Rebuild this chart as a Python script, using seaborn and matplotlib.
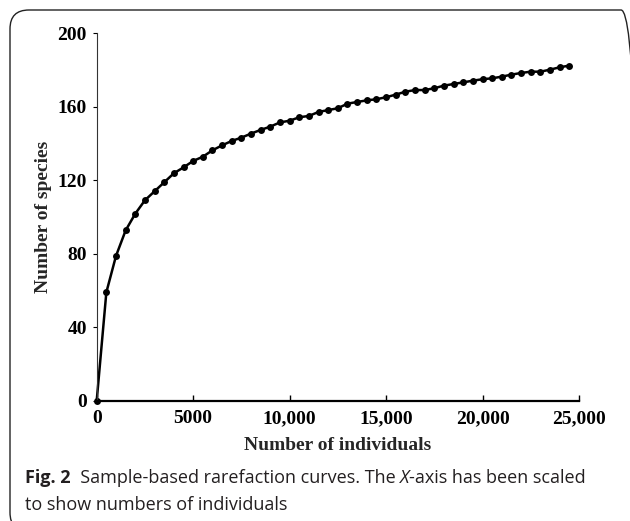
import numpy as np
import pandas as pd
import matplotlib
matplotlib.use("Agg")
import matplotlib.pyplot as plt
from matplotlib.patches import FancyBboxPatch
import seaborn as sns

# rarefaction curve
individuals = [
    0, 500, 1000, 1500, 2000, 2500, 3000, 3500, 4000, 4500,
    5000, 5500, 6000, 6500, 7000, 7500, 8000, 8500, 9000, 9500,
    10000, 10500, 11000, 11500, 12000, 12500, 13000, 13500, 14000, 14500,
    15000, 15500, 16000, 16500, 17000, 17500, 18000, 18500, 19000, 19500,
    20000, 20500, 21000, 21500, 22000, 22500, 23000, 23500, 24000, 24500,
]
species = [
    0, 59.0, 78.8, 92.7, 101.8, 109.1, 114.0, 118.9, 123.8, 127.0,
    130.5, 132.8, 136.3, 139.0, 141.4, 143.2, 145.4, 147.4, 149.2, 151.5,
    152.4, 154.3, 155.0, 157.2, 158.2, 159.2, 161.7, 162.6, 163.5, 164.1,
    165.2, 166.6, 168.2, 169.1, 169.1, 170.1, 171.5, 172.4, 173.3, 174.2,
    175.0, 175.5, 176.4, 177.5, 178.4, 179.1, 179.1, 180.2, 181.5, 182.4,
]
x_ticks = [0, 5000, 10000, 15000, 20000, 25000]
x_tick_labels = ["0", "5000", "10,000", "15,000", "20,000", "25,000"]
y_ticks = [0, 40, 80, 120, 160, 200]

df = pd.DataFrame({"individuals": individuals, "species": species})

sns.set_theme(style="ticks")
plt.rcParams["font.family"] = ["Liberation Serif", "DejaVu Serif"]

fig = plt.figure(figsize=(6.3, 5.21), dpi=100)
ax = fig.add_axes([0.1535, 0.2309, 0.7655, 0.7052])

sns.lineplot(
    data=df,
    x="individuals",
    y="species",
    ax=ax,
    color="black",
    linewidth=1.8,
    marker="o",
    markersize=5,
    markeredgewidth=0,
    clip_on=False,
)

ax.set_xlim(0, 25000)
ax.set_ylim(0, 200)
ax.set_xticks(x_ticks)
ax.set_xticklabels(x_tick_labels)
ax.set_yticks(y_ticks)
for lab in ax.get_xticklabels() + ax.get_yticklabels():
    lab.set_fontweight("bold")
    lab.set_fontsize(14)
ax.tick_params(axis="x", direction="in", length=4, width=1, pad=7, colors="black")
ax.tick_params(axis="y", direction="out", length=3, width=0.8, pad=4, colors="black")
ax.spines["top"].set_visible(False)
ax.spines["right"].set_visible(False)
ax.spines["left"].set_linewidth(0.8)
ax.spines["left"].set_color("#333333")
ax.spines["bottom"].set_linewidth(1.6)
ax.spines["bottom"].set_color("black")
ax.set_xlabel("Number of individuals", fontsize=14, fontweight="bold", labelpad=7)
ax.set_ylabel("Number of species", fontsize=14, fontweight="bold", labelpad=4)

# rounded frame around figure + caption
frame = FancyBboxPatch(
    (10 / 630, -0.02), 640 / 630 - 10 / 630, 1.0 - 10 / 521 + 0.02,
    boxstyle="round,pad=0,rounding_size=0.03",
    transform=fig.transFigure, fill=False, edgecolor="#222222", linewidth=1.0,
    mutation_aspect=630 / 521,
)
fig.patches.append(frame)

# caption, pieces placed one after another
cap_font = ["Open Sans", "DejaVu Sans"]
fig.canvas.draw()
renderer = fig.canvas.get_renderer()


def put(text, x_px, y_px, **kw):
    t = fig.text(x_px / 630, 1 - y_px / 521, text, family=cap_font,
                 fontsize=13, color="#231f20", va="baseline", ha="left", **kw)
    bb = t.get_window_extent(renderer=renderer)
    return x_px + bb.width


x = put("Fig. 2", 25, 483, fontweight="bold")
x = put("  Sample-based rarefaction curves. The ", x, 483)
x = put("X", x, 483, style="italic")
put("-axis has been scaled", x, 483)
put("to show numbers of individuals", 25, 510)

fig.savefig("out.png", dpi=100)
